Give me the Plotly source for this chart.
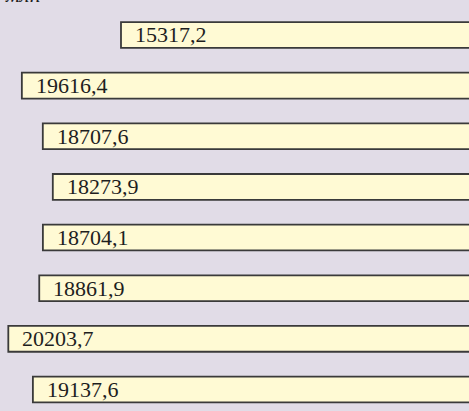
import plotly.graph_objects as go

values = [15317.2, 19616.4, 18707.6, 18273.9, 18704.1, 18861.9, 20203.7, 19137.6]
labels = [f"{v:.1f}".replace(".", ",") for v in values]
positions = list(range(len(values)))

fig = go.Figure()
fig.add_trace(go.Bar(
    x=values,
    y=positions,
    orientation="h",
    width=0.51,
    marker=dict(color="#FFFAD4", line=dict(color="#3a3a3a", width=1.8)),
    hoverinfo="skip",
))

for v, lab, p in zip(values, labels, positions):
    fig.add_annotation(
        x=v, y=p, xref="x", yref="y",
        text=lab, showarrow=False,
        xanchor="left", yanchor="middle", xshift=12,
        font=dict(family="Liberation Serif", size=22, color="#1e1e1e"),
    )

fig.add_annotation(
    x=0, y=1, xref="paper", yref="paper",
    text="<i>млн</i>", showarrow=False,
    xanchor="left", yanchor="bottom", xshift=3, yshift=-9,
    font=dict(family="Liberation Serif", size=22, color="#1e1e1e"),
)

fig.update_layout(
    width=469, height=411,
    margin=dict(l=0, r=0, t=0, b=0),
    paper_bgcolor="#E1DCE7",
    plot_bgcolor="#E1DCE7",
    showlegend=False,
    xaxis=dict(range=[20564, 225], visible=False, showgrid=False, zeroline=False),
    yaxis=dict(range=[7.425, -0.691], visible=False, showgrid=False, zeroline=False),
)

fig.write_html(
    "out.html",
    config={"displayModeBar": False},
    post_script="document.body.style.margin='0';document.body.style.background='#E1DCE7';",
)
